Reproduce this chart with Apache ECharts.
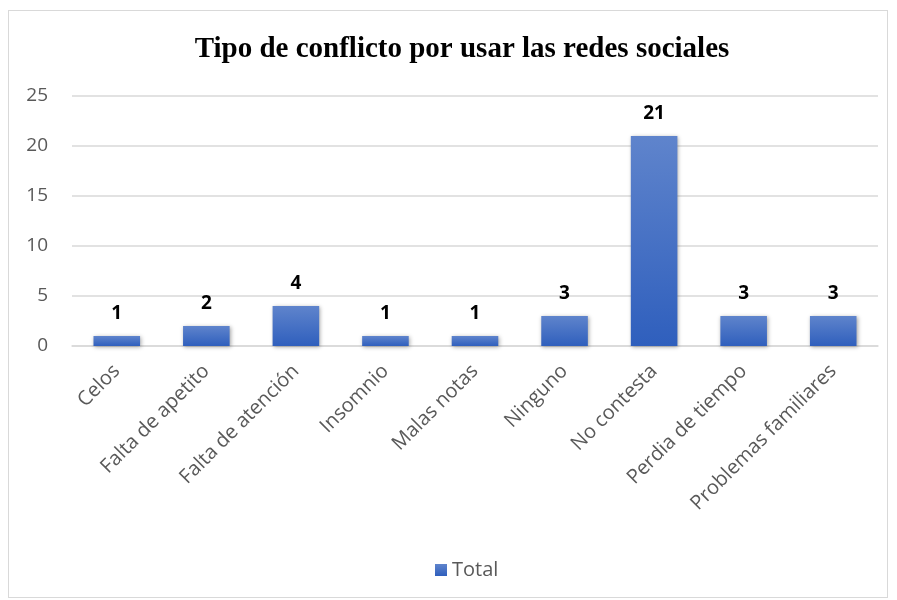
<!DOCTYPE html>
<html>
<head>
<meta charset="utf-8">
<script src="https://cdn.jsdelivr.net/npm/echarts@6/dist/echarts.min.js"></script>
<style>
  html, body { margin: 0; padding: 0; background: #fff; }
  #frame { position: absolute; left: 8px; top: 10px; width: 880px; height: 588px; border: 1.5px solid #d9d9d9; box-sizing: border-box; }
  #chart { position: absolute; left: 0; top: 0; width: 897px; height: 600px; }
</style>
</head>
<body>
<div id="frame"></div>
<div id="chart"></div>
<script>
// Conflict types reported from social-network use
const categories = ['Celos', 'Falta de apetito', 'Falta de atención', 'Insomnio', 'Malas notas', 'Ninguno', 'No contesta', 'Perdia de tiempo', 'Problemas familiares'];
const totals = [1, 2, 4, 1, 1, 3, 21, 3, 3];
const yTicks = [0, 5, 10, 15, 20, 25];

const chart = echarts.init(document.getElementById('chart'), null, { renderer: 'canvas' });

const barFill = new echarts.graphic.LinearGradient(0, 0, 0, 1, [
  { offset: 0, color: '#5f84cc' },
  { offset: 1, color: '#2f5fbd' }
]);

const uiFont = 'Open Sans';

chart.setOption({
  animation: false,
  title: {
    text: 'Tipo de conflicto por usar las redes sociales',
    left: 457,
    textAlign: 'center',
    top: 30,
    textStyle: { fontFamily: 'Liberation Serif', fontWeight: 'bold', fontSize: 29, color: '#000' }
  },
  legend: {
    data: ['Total'],
    left: 430,
    top: 555,
    itemWidth: 12,
    itemHeight: 12,
    itemGap: 4,
    icon: 'rect',
    textStyle: { fontFamily: uiFont, fontSize: 20, color: '#595959' }
  },
  grid: { left: 72, right: 19, top: 96, bottom: 254, containLabel: false },
  xAxis: {
    type: 'category',
    data: categories,
    axisLine: { lineStyle: { color: '#d9d9d9', width: 1.5 } },
    axisTick: { show: false },
    axisLabel: {
      rotate: 45,
      interval: 0,
      margin: 22,
      fontFamily: uiFont,
      fontSize: 20,
      color: '#595959'
    }
  },
  yAxis: {
    type: 'value',
    min: yTicks[0],
    max: yTicks[yTicks.length - 1],
    interval: 5,
    axisLine: { show: false },
    axisTick: { show: false },
    splitLine: { lineStyle: { color: '#d9d9d9', width: 1.5 } },
    axisLabel: { fontFamily: uiFont, fontSize: 19, color: '#595959', margin: 24 }
  },
  series: [{
    name: 'Total',
    type: 'bar',
    data: totals,
    barWidth: '52%',
    itemStyle: {
      color: barFill,
      shadowColor: 'rgba(0,0,0,0.35)',
      shadowBlur: 4,
      shadowOffsetX: 1,
      shadowOffsetY: 1
    },
    label: {
      show: true,
      position: 'top',
      distance: 13,
      fontFamily: uiFont,
      fontWeight: 'bold',
      fontSize: 19,
      color: '#000'
    }
  }]
});
</script>
</body>
</html>
